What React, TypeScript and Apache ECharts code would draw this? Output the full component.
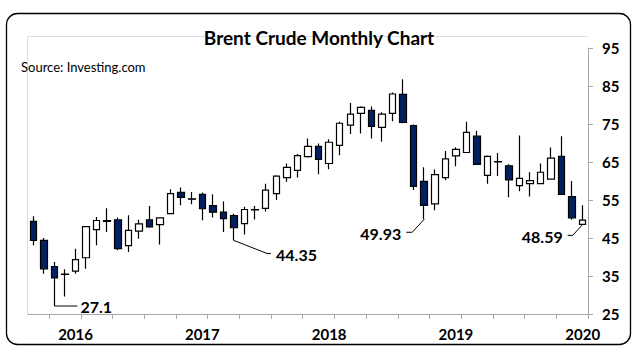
import React, { useEffect, useRef } from "react";
import * as echarts from "echarts";

const months = [
  "2015-11", "2015-12",
  "2016-01", "2016-02", "2016-03", "2016-04", "2016-05", "2016-06",
  "2016-07", "2016-08", "2016-09", "2016-10", "2016-11", "2016-12",
  "2017-01", "2017-02", "2017-03", "2017-04", "2017-05", "2017-06",
  "2017-07", "2017-08", "2017-09", "2017-10", "2017-11", "2017-12",
  "2018-01", "2018-02", "2018-03", "2018-04", "2018-05", "2018-06",
  "2018-07", "2018-08", "2018-09", "2018-10", "2018-11", "2018-12",
  "2019-01", "2019-02", "2019-03", "2019-04", "2019-05", "2019-06",
  "2019-07", "2019-08", "2019-09", "2019-10", "2019-11", "2019-12",
  "2020-01", "2020-02", "2020-03",
];

const opens = [
  49.4, 44.4,
  37.5, 35.4, 36.3, 39.8, 47.2, 49.4, 49.8, 43.0, 46.8, 49.8, 48.5, 51.4,
  57.0, 55.3, 56.5, 53.5, 51.8, 50.9, 48.8, 52.4, 52.8, 56.7, 60.9, 62.8,
  66.4, 69.1, 64.6, 69.4, 74.7, 77.8, 78.6, 74.1, 77.8, 82.8, 74.6, 59.9,
  54.0, 60.9, 66.6, 67.5, 71.8, 61.5, 65.1, 64.0, 58.8, 59.3, 59.3, 60.5,
  66.5, 55.9, 48.59,
];
const closes = [
  44.4, 36.9,
  34.5, 35.5, 39.3, 48.0, 49.6, 49.6, 42.2, 47.0, 48.7, 47.9, 50.3, 56.7,
  55.7, 55.2, 52.7, 51.8, 50.1, 47.7, 52.5, 52.5, 57.6, 61.3, 63.6, 66.7,
  69.1, 65.7, 70.2, 75.2, 77.6, 79.4, 74.4, 77.6, 82.9, 75.4, 58.6, 53.6,
  61.7, 65.8, 68.3, 72.8, 64.4, 66.5, 65.0, 60.3, 60.7, 60.1, 62.3, 66.0,
  56.5, 50.3, 49.7,
];
const lows = [
  43.1, 35.6,
  27.1, 29.6, 35.6, 36.9, 43.1, 46.6, 41.8, 41.3, 44.8, 47.7, 43.3, 51.3,
  53.6, 53.9, 49.7, 50.4, 46.6, 44.35, 45.9, 49.9, 52.0, 55.0, 59.8, 60.9,
  66.2, 61.8, 63.1, 66.8, 72.4, 72.5, 71.2, 70.3, 75.7, 75.2, 57.6, 49.93,
  52.3, 60.2, 63.9, 67.4, 64.3, 59.3, 61.3, 55.7, 57.3, 55.9, 59.2, 60.4,
  56.4, 49.9, 48.59,
];
const highs = [
  50.7, 45.0,
  38.7, 36.8, 42.2, 48.1, 50.5, 52.8, 50.4, 51.0, 49.8, 53.4, 50.4, 57.8,
  58.3, 57.1, 57.0, 56.5, 54.6, 51.4, 53.2, 53.4, 59.3, 61.5, 64.6, 67.1,
  71.2, 69.9, 71.0, 75.6, 80.5, 79.7, 79.6, 78.1, 83.3, 86.8, 74.9, 63.6,
  63.0, 67.9, 68.9, 75.6, 73.2, 66.7, 67.4, 64.4, 72.0, 62.3, 64.6, 68.8,
  71.8, 60.0, 53.6,
];

const yTicks = [25, 35, 45, 55, 65, 75, 85, 95];

// annotations
const noteMonths = ["2016-01", "2017-06", "2018-12", "2020-03"];
const noteValues = [27.1, 44.35, 49.93, 48.59];
const noteLabels = ["27.1", "44.35", "49.93", "48.59"];

const FONT = "Lato, 'Open Sans', sans-serif";
const GRID = { left: 28, right: 50, top: 48, bottom: 40 };
const W = 638;
const H = 354;

export default function App() {
  const ref = useRef<HTMLDivElement>(null);

  useEffect(() => {
    document.body.style.margin = "0";
    if (!ref.current) return;
    const chart = echarts.init(ref.current, undefined, { renderer: "svg" });

    const data = months.map((_, i) => [opens[i], closes[i], lows[i], highs[i]]);

    chart.setOption({
      animation: false,
      backgroundColor: "#ffffff",
      grid: { ...GRID, containLabel: false },
      xAxis: {
        type: "category",
        data: months,
        boundaryGap: true,
        axisLine: { show: true, lineStyle: { color: "#a6a6a6", width: 1 } },
        axisTick: {
          show: true,
          length: 5,
          interval: (i: number) => i % 3 === 2,
          lineStyle: { color: "#a6a6a6" },
        },
        axisLabel: {
          interval: (i: number) => i % 12 === 4,
          formatter: (v: string) => v.slice(0, 4),
          color: "#000",
          fontFamily: FONT,
          fontWeight: "bold",
          fontSize: 15,
          margin: 12,
        },
        splitLine: { show: false },
      },
      yAxis: {
        type: "value",
        position: "right",
        min: yTicks[0],
        max: yTicks[yTicks.length - 1],
        interval: 10,
        axisLine: { show: true, lineStyle: { color: "#a6a6a6", width: 1 } },
        axisTick: { show: true, length: 5, lineStyle: { color: "#a6a6a6" } },
        axisLabel: {
          color: "#000",
          fontFamily: FONT,
          fontWeight: "bold",
          fontSize: 15,
          margin: 14,
        },
        splitLine: { show: false },
      },
      series: [
        {
          type: "candlestick",
          data,
          barWidth: 7,
          itemStyle: {
            color: "#ffffff",
            color0: "#002060",
            borderColor: "#000000",
            borderColor0: "#000000",
            borderColorDoji: "#000000",
            borderWidth: 1.2,
          },
        },
      ],
    });

    const graphics: any[] = [];
    graphics.push({
      type: "rect",
      shape: { x: 6.5, y: 13.5, width: 624, height: 331, r: 11 },
      style: { fill: "none", stroke: "#000", lineWidth: 1.3 },
      silent: true,
    });
    const plotRight = W - GRID.right;
    const plotBottom = H - GRID.bottom;
    graphics.push({
      type: "polyline",
      shape: {
        points: [
          [GRID.left - 0.5, plotBottom],
          [GRID.left - 0.5, 36.5],
          [plotRight, 36.5],
        ],
      },
      style: { fill: "none", stroke: "#d6e0ec", lineWidth: 1 },
      silent: true,
    });
    graphics.push({
      type: "text",
      x: 319,
      y: 37,
      style: {
        text: "Brent Crude Monthly Chart",
        fill: "#000",
        font: `bold 19px ${FONT}`,
        textAlign: "center",
        textVerticalAlign: "middle",
      },
    });
    graphics.push({
      type: "text",
      x: 21,
      y: 67,
      style: {
        text: "Source: Investing.com",
        fill: "#000",
        font: `13px ${FONT}`,
        textAlign: "left",
        textVerticalAlign: "middle",
      },
    });

    const leader = [
      { pts: [[0, 0], [23, 0]], tx: 26, ty: 0, align: "left" },
      { pts: [[0, 0], [33, 13], [37, 13]], tx: 42, ty: 14, align: "left" },
      { pts: [[0, 0], [-12, 13], [-18, 13]], tx: -23, ty: 14, align: "right" },
      { pts: [[0, 0], [-10, 11], [-15, 11]], tx: -20, ty: 12, align: "right" },
    ];
    noteMonths.forEach((m, i) => {
      const p = chart.convertToPixel({ xAxisIndex: 0, yAxisIndex: 0 }, [m, noteValues[i]]) as number[];
      const L = leader[i];
      graphics.push({
        type: "polyline",
        shape: { points: L.pts.map((q) => [p[0] + q[0], p[1] + q[1]]) },
        style: { fill: "none", stroke: "#000", lineWidth: 1 },
        silent: true,
      });
      graphics.push({
        type: "text",
        x: p[0] + L.tx,
        y: p[1] + L.ty,
        style: {
          text: noteLabels[i],
          fill: "#000",
          font: `bold 16px ${FONT}`,
          textAlign: L.align,
          textVerticalAlign: "middle",
        },
      });
    });

    chart.setOption({ graphic: graphics });

    return () => chart.dispose();
  }, []);

  return (
    <div
      ref={ref}
      style={{ position: "absolute", left: 0, top: 0, width: W, height: H }}
    />
  );
}
